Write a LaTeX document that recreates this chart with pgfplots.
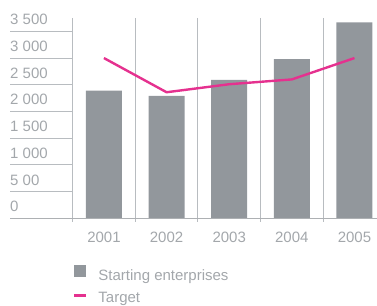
\documentclass[border=0pt]{standalone}
\usepackage{fontspec}
\setmainfont{Liberation Sans}
\usepackage{pgfplots}
\pgfplotsset{compat=1.18}
\definecolor{bargray}{HTML}{92979C}
\definecolor{tpink}{HTML}{E5318F}
\definecolor{txtgray}{HTML}{A3A7AB}
\definecolor{linegray}{HTML}{B8BCC0}
\newcommand{\fs}{\fontsize{15}{18}\selectfont}
\begin{document}
\begin{tikzpicture}
\path[use as bounding box] (-10pt,-86.7pt) rectangle (367pt,218.3pt);
\begin{axis}[
  at={(0pt,0pt)}, anchor=south west, scale only axis,
  width=367pt, height=200.3pt,
  xmin=-1.5, xmax=4.36, ymin=0, ymax=3750,
  hide axis, clip=false,
  legend style={at={(axis description cs:0.1717,-0.232)}, anchor=north west,
    draw=none, fill=none, inner sep=0pt, outer sep=0pt, font=\fs, text=txtgray,
    row sep=10pt, nodes={inner sep=0pt},
    /tikz/every odd column/.append style={column sep=11pt}},
  legend cell align=left,
]
\pgfplotsinvokeforeach{500,1000,1500,2000,2500,3000,3500}{
  \draw[linegray, line width=1pt] (axis cs:-1.5,#1) -- (axis cs:-0.5,#1);
}
\pgfplotsinvokeforeach{-0.5,0.5,1.5,2.5,3.5}{
  \draw[linegray, line width=1pt] (axis cs:#1,3750) -- (axis cs:#1,-75);
}
\addplot[ybar, bar width=0.575, fill=bargray, draw=none,
  legend image code/.code={\fill[bargray] (0pt,-1.5pt) rectangle (12pt,11pt);}]
  coordinates {(0,2390) (1,2290) (2,2590) (3,2980) (4,3670)};
\addlegendentry{Starting enterprises}
\addplot[tpink, line width=2.4pt, mark=none,
  legend image code/.code={\draw[tpink, line width=2.4pt] (0pt,2.5pt) -- (12pt,2.5pt);}]
  coordinates {(0,3000) (1,2360) (2,2510) (3,2600) (4,3000)};
\addlegendentry{Target}
\draw[linegray!80!gray, line width=1pt] (axis cs:-1.5,0) -- (axis cs:4.36,0);
\node[anchor=base west, inner sep=0pt, text=txtgray, font=\fs, yshift=6.5pt] at (axis cs:-1.5,3500) {3 500};
\node[anchor=base west, inner sep=0pt, text=txtgray, font=\fs, yshift=6.5pt] at (axis cs:-1.5,3000) {3 000};
\node[anchor=base west, inner sep=0pt, text=txtgray, font=\fs, yshift=6.5pt] at (axis cs:-1.5,2500) {2 500};
\node[anchor=base west, inner sep=0pt, text=txtgray, font=\fs, yshift=6.5pt] at (axis cs:-1.5,2000) {2 000};
\node[anchor=base west, inner sep=0pt, text=txtgray, font=\fs, yshift=6.5pt] at (axis cs:-1.5,1500) {1 500};
\node[anchor=base west, inner sep=0pt, text=txtgray, font=\fs, yshift=6.5pt] at (axis cs:-1.5,1000) {1 000};
\node[anchor=base west, inner sep=0pt, text=txtgray, font=\fs, yshift=6.5pt] at (axis cs:-1.5,500) {5 00};
\node[anchor=base west, inner sep=0pt, text=txtgray, font=\fs, yshift=7pt] at (axis cs:-1.5,0) {0};
\node[anchor=base, inner sep=0pt, text=txtgray, font=\fs, yshift=-24.4pt] at (axis cs:0,0) {2001};
\node[anchor=base, inner sep=0pt, text=txtgray, font=\fs, yshift=-24.4pt] at (axis cs:1,0) {2002};
\node[anchor=base, inner sep=0pt, text=txtgray, font=\fs, yshift=-24.4pt] at (axis cs:2,0) {2003};
\node[anchor=base, inner sep=0pt, text=txtgray, font=\fs, yshift=-24.4pt] at (axis cs:3,0) {2004};
\node[anchor=base, inner sep=0pt, text=txtgray, font=\fs, yshift=-24.4pt] at (axis cs:4,0) {2005};
\end{axis}
\end{tikzpicture}
\end{document}
